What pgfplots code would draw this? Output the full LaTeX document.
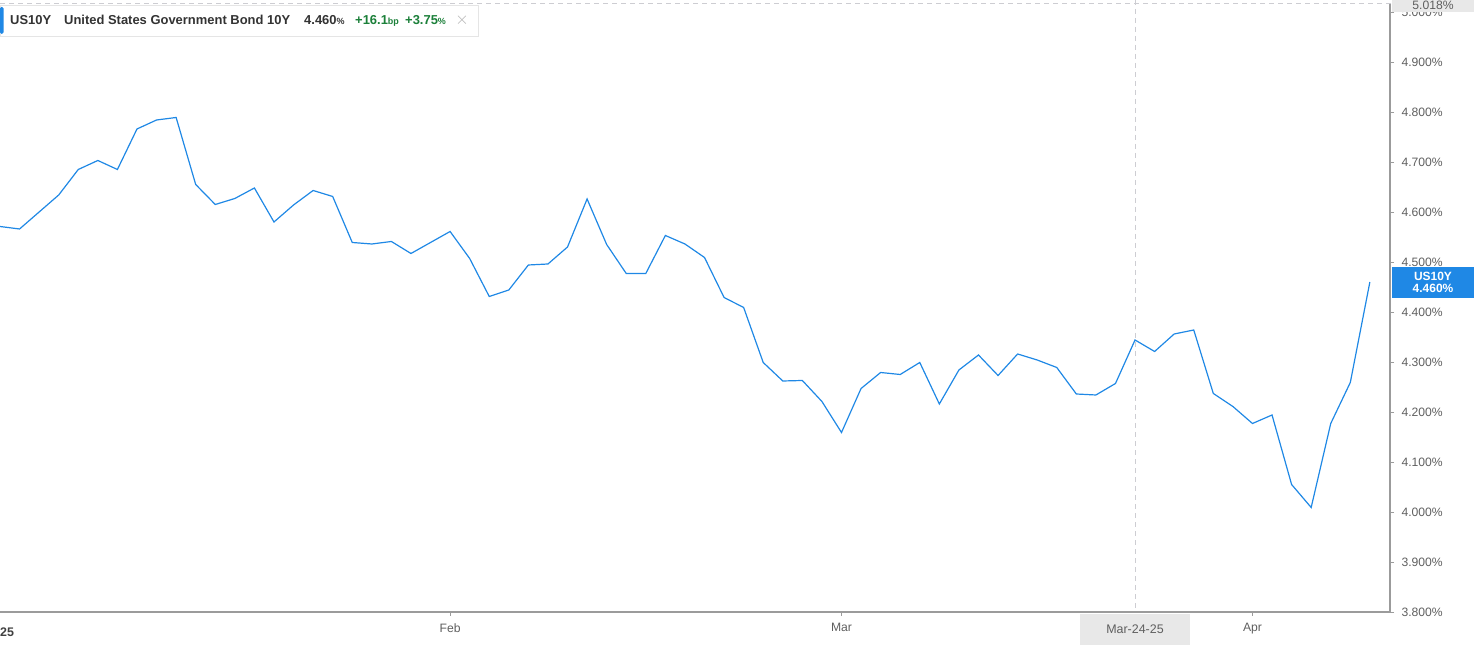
\documentclass[border=0pt]{standalone}
\usepackage{fontspec}
\setmainfont{Liberation Sans}
\usepackage{pgfplots}
\usepackage{pgfplotstable}
\pgfplotsset{compat=1.18}

\definecolor{bondblue}{RGB}{31,136,229}
\definecolor{axisgray}{RGB}{155,155,155}
\definecolor{labelgray}{RGB}{95,95,95}
\definecolor{upgreen}{RGB}{28,128,58}
\definecolor{boxgray}{RGB}{232,232,232}
\definecolor{dashgray}{RGB}{205,205,210}

% trading day index, yield in %
\pgfplotstableread{
i y
0 4.571
1 4.566
2 4.600
3 4.634
4 4.685
5 4.703
6 4.685
7 4.766
8 4.784
9 4.789
10 4.655
11 4.615
12 4.627
13 4.648
14 4.580
15 4.614
16 4.643
17 4.631
18 4.539
19 4.536
20 4.541
21 4.517
22 4.539
23 4.561
24 4.507
25 4.431
26 4.444
27 4.494
28 4.496
29 4.530
30 4.626
31 4.535
32 4.477
33 4.477
34 4.553
35 4.536
36 4.509
37 4.429
38 4.409
39 4.299
40 4.262
41 4.263
42 4.221
43 4.159
44 4.247
45 4.279
46 4.275
47 4.299
48 4.216
49 4.284
50 4.314
51 4.273
52 4.316
53 4.304
54 4.289
55 4.236
56 4.234
57 4.257
58 4.344
59 4.321
60 4.356
61 4.364
62 4.237
63 4.211
64 4.177
65 4.194
66 4.055
67 4.009
68 4.177
69 4.259
70 4.460
}\yields

\begin{document}
\begin{tikzpicture}[x=1bp,y=1bp]
\begin{axis}[
  at={(0bp,33bp)}, anchor=south west,
  scale only axis, width=1390bp, height=609bp,
  xmin=0, xmax=71.03, ymin=3.8, ymax=5.018,
  axis x line*=bottom, axis y line*=right,
  axis line style={axisgray, line width=1.4bp},
  tick style={axisgray, line width=0.8bp},
  tick align=outside, major tick length=4bp,
  xtick={23,43,64}, xticklabels={Feb,Mar,Apr},
  ytick={3.8,3.9,...,5.01},
  /pgf/number format/assume math mode=true,
  yticklabel={\pgfmathprintnumber[fixed,fixed zerofill,precision=3]{\tick}\%},
  yticklabel style={anchor=west, xshift=4bp, text=labelgray, font=\fontsize{12.2}{14}\selectfont},
  xticklabel style={text=labelgray, font=\fontsize{12.2}{14}\selectfont, yshift=-4bp},
]
\addplot[bondblue, line width=1.2bp, mark=none] table[x=i, y=y] {\yields};
\end{axis}

% crosshair
\draw[dashgray, line width=1bp, dash pattern=on 5bp off 4bp] (1135,645) -- (1135,33);
\draw[dashgray, line width=1bp, dash pattern=on 5bp off 4bp] (0,641) -- (1474,641);

% top value box
\node[fill=boxgray, minimum width=82bp, minimum height=14bp, inner sep=0pt,
      text=labelgray, font=\fontsize{12.2}{14}\selectfont] at (1433,640) {5.018\%};

% last value label
\fill[bondblue] (1392,347) rectangle (1474,378);
\node[text=white, font=\bfseries\fontsize{12}{12.5}\selectfont, align=center, inner sep=0pt] at (1433,362.5)
  {US10Y\\4.460\%};

% date box
\fill[boxgray] (1080,0) rectangle (1190,31);
\node[text=labelgray, font=\fontsize{12.5}{14}\selectfont] at (1135,16) {Mar-24-25};
\node[anchor=west, inner sep=0pt, text=black!75, font=\bfseries\fontsize{12.5}{14}\selectfont] at (0,13) {25};

% legend header
\draw[fill=white, draw=black!10, line width=0.8bp] (0,640) rectangle (478,609);
\fill[bondblue, rounded corners=1.5bp] (0,638) rectangle (3.5,611);
\begin{scope}[every node/.style={anchor=base west, inner sep=0pt, font=\bfseries\fontsize{13}{15}\selectfont}]
\node[text=black!80] at (10,620) {US10Y};
\node[text=black!80] at (64,620) {United States Government Bond 10Y};
\node[text=black!80] at (304,620) {4.460{\fontsize{9}{10}\selectfont\%}};
\node[text=upgreen] at (355,620) {+16.1{\fontsize{9}{10}\selectfont bp}};
\node[text=upgreen] at (405,620) {+3.75{\fontsize{9}{10}\selectfont\%}};
\end{scope}
\node[text=black!30, font=\fontsize{16}{16}\selectfont] at (462,625) {$\times$};

\pgfresetboundingbox
\path[use as bounding box] (0,0) rectangle (1474,645);
\end{tikzpicture}
\end{document}
